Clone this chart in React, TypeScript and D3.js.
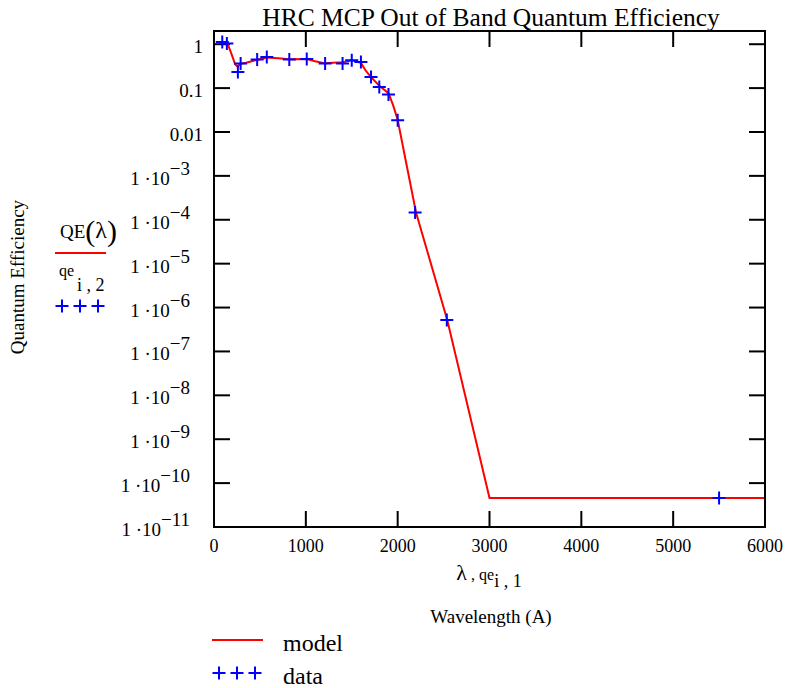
import React from "react";
import * as d3 from "d3";

const dataWavelength = [90, 140, 260, 290, 470, 575, 820, 1010, 1210, 1400, 1500, 1600, 1710, 1800, 1900, 2000, 2190, 2535, 5500];
const dataQE = [1.13, 1.04, 0.234, 0.363, 0.448, 0.513, 0.448, 0.463, 0.363, 0.363, 0.432, 0.395, 0.18, 0.106, 0.0715, 0.0186, 1.47e-4, 5.2e-7, 4.6e-11];

const modelWavelength = [80, 110, 150, 190, 230, 255, 290, 350, 450, 580, 700, 820, 1010, 1100, 1200, 1400, 1500, 1600, 1650, 1700, 1800, 1900, 1950, 2000, 2100, 2200, 2540, 3000, 6000];
const modelQE = [1.12, 1.1, 1.0, 0.6, 0.35, 0.31, 0.36, 0.38, 0.43, 0.5, 0.48, 0.455, 0.46, 0.41, 0.37, 0.39, 0.43, 0.375, 0.255, 0.187, 0.113, 0.0766, 0.041, 0.019, 1.66e-3, 1.47e-4, 5.2e-7, 4.6e-11, 4.6e-11];

const xTicks = [0, 1000, 2000, 3000, 4000, 5000, 6000];
const yExponents = [0, -1, -2, -3, -4, -5, -6, -7, -8, -9, -10, -11];

const FONT = "'Liberation Serif', 'Times New Roman', serif";

function plusPath(cx: number, cy: number, h: number) {
  return `M${cx - h},${cy}H${cx + h}M${cx},${cy - h}V${cy + h}`;
}

function PlusRow({ x0, cy }: { x0: number; cy: number }) {
  return (
    <path
      d={[0, 1, 2].map((k) => plusPath(x0 + 7 + k * 18, cy, 6.5)).join("")}
      stroke="#0000ff"
      strokeWidth={2}
      fill="none"
    />
  );
}

export default function App() {
  const left = 214, right = 765, top = 31, bottom = 527;
  const x = d3.scaleLinear().domain([0, 6000]).range([left, right]);
  const y = d3.scaleLog().domain([1e-11, 2]).range([bottom, top]);

  const line = d3.line<number>()
    .x((i) => x(modelWavelength[i]))
    .y((i) => y(modelQE[i]));
  const modelPath = line(modelWavelength.map((_, i) => i)) || "";

  const tickLen = 16;

  return (
    <svg width={791} height={688} style={{ position: "absolute", left: 0, top: 0 }} fontFamily={FONT}>
      <rect width={791} height={688} fill="#fff" />
      <text x={491} y={26} textAnchor="middle" fontSize={25.5}>HRC MCP Out of Band Quantum Efficiency</text>

      {xTicks.slice(1, -1).map((t) => (
        <g key={"xt" + t} stroke="#000" strokeWidth={2}>
          <line x1={x(t)} x2={x(t)} y1={bottom} y2={bottom - tickLen} />
          <line x1={x(t)} x2={x(t)} y1={top} y2={top + tickLen} />
        </g>
      ))}
      {yExponents.slice(0, -1).map((e) => (
        <g key={"yt" + e} stroke="#000" strokeWidth={2}>
          <line x1={left} x2={left + tickLen} y1={y(Math.pow(10, e))} y2={y(Math.pow(10, e))} />
          <line x1={right} x2={right - tickLen} y1={y(Math.pow(10, e))} y2={y(Math.pow(10, e))} />
        </g>
      ))}

      <path d={modelPath} fill="none" stroke="#ff0000" strokeWidth={2} />

      {dataWavelength.map((w, i) => (
        <path key={"d" + i} d={plusPath(x(w), y(dataQE[i]), 6.5)} stroke="#0000ff" strokeWidth={2} fill="none" />
      ))}

      <rect x={left} y={top} width={right - left} height={bottom - top} fill="none" stroke="#000" strokeWidth={2} />

      {xTicks.map((t) => (
        <text key={"xl" + t} x={x(t)} y={552} textAnchor="middle" fontSize={18}>{t}</text>
      ))}

      {yExponents.map((e) => {
        const ty = y(Math.pow(10, e));
        if (e >= -2) {
          const label = e === 0 ? "1" : e === -1 ? "0.1" : "0.01";
          return <text key={"yl" + e} x={203} y={ty + 9} textAnchor="end" fontSize={19}>{label}</text>;
        }
        return (
          <text key={"yl" + e} x={190} y={ty + 9} textAnchor="end" fontSize={19}>
            {"1 ·10"}
            <tspan dy={-10}>{"\u2212" + Math.abs(e)}</tspan>
          </text>
        );
      })}

      <text transform="translate(24,277) rotate(-90)" textAnchor="middle" fontSize={19}>Quantum Efficiency</text>

      <text x={60} y={238} fontSize={19}>
        QE
        <tspan fontSize={30} dy={3}>(</tspan>
        <tspan fontSize={24} dy={-3}>λ</tspan>
        <tspan fontSize={30} dy={3}>)</tspan>
      </text>
      <line x1={55} x2={106} y1={253} y2={253} stroke="#ff0000" strokeWidth={2} />
      <text x={59} y={276} fontSize={16}>qe</text>
      <text x={77} y={291} fontSize={18}>i , 2</text>
      <PlusRow x0={55} cy={306} />

      <text x={489} y={580} textAnchor="middle" fontSize={22}>
        λ
        <tspan fontSize={16}>{" , qe"}</tspan>
        <tspan fontSize={18} dy={7}>i , 1</tspan>
      </text>
      <text x={491} y={623} textAnchor="middle" fontSize={19}>Wavelength (A)</text>

      <line x1={212} x2={263} y1={640} y2={640} stroke="#ff0000" strokeWidth={2} />
      <text x={283} y={651} fontSize={24}>model</text>
      <PlusRow x0={212} cy={673} />
      <text x={283} y={684} fontSize={24}>data</text>
    </svg>
  );
}
